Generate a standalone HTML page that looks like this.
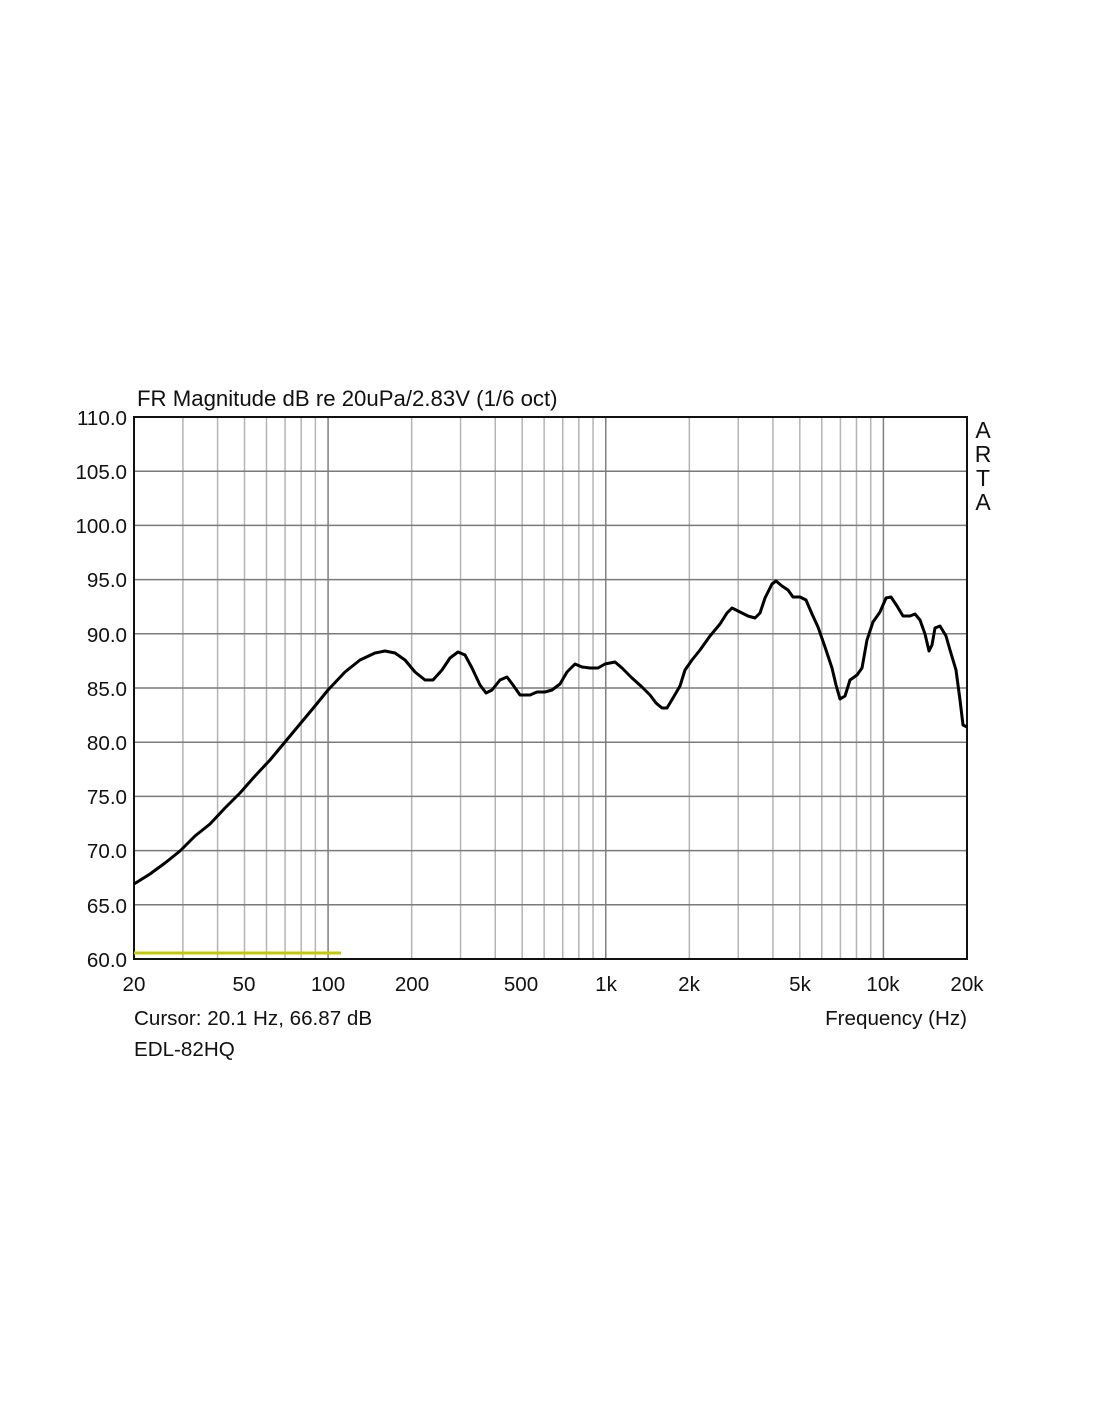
<!DOCTYPE html>
<html><head><meta charset="utf-8"><style>
html,body{margin:0;padding:0;background:#fff;}
svg text{font-family:"Liberation Sans",Arial,sans-serif;fill:#111;}
</style></head><body>
<svg width="1100" height="1422" viewBox="0 0 1100 1422" xmlns="http://www.w3.org/2000/svg">
<g id="grid"></g>
<script>
(function(){
var g=document.getElementById('grid'),ns='http://www.w3.org/2000/svg';
function ln(x1,y1,x2,y2,c,w){var l=document.createElementNS(ns,'line');l.setAttribute('x1',x1);l.setAttribute('y1',y1);l.setAttribute('x2',x2);l.setAttribute('y2',y2);l.setAttribute('stroke',c);l.setAttribute('stroke-width',w);g.appendChild(l);}
var L=134,R=967,T=417,B=959,dec=(R-L)/3;
function X(f){return L+dec*Math.log10(f/20);}
var fs=[30,40,50,60,70,80,90,200,300,400,500,600,700,800,900,2000,3000,4000,5000,6000,7000,8000,9000];
fs.forEach(function(f){ln(X(f),T,X(f),B,'#b4b4b4',1.5);});
[100,1000,10000].forEach(function(f){ln(X(f),T,X(f),B,'#808080',1.5);});
for(var i=1;i<10;i++){var y=T+i*(B-T)/10;ln(L,y,R,y,'#7a7a7a',1.5);}
})();
</script>
<rect x="134" y="417" width="833" height="542" fill="none" stroke="#111" stroke-width="2"/>
<line x1="134" y1="953" x2="341" y2="953" stroke="#c8c800" stroke-width="3"/>
<polyline fill="none" stroke="#000" stroke-width="3" stroke-linejoin="round" points="134,884 150,874 165,863 180,851 195,836 210,824 225,808 240,793 255,776 270,760 285,742 300,724 315,706 328,690 345,672 360,660 375,653 385,651 395,653 405,660 415,672 425,680 433,680 442,670 450,658 458,652 465,655 472,668 480,685 486,693 492,690 500,680 507,677 513,685 520,695 530,695 537,692 545,692 552,690 560,684 567,672 575,664 582,667 590,668 598,668 605,664 615,662 622,668 632,678 642,687 650,695 656,703 662,708 667,708 673,698 680,686 685,670 692,660 700,650 710,636 720,624 727,613 732,608 740,612 748,616 755,618 760,613 765,598 772,584 776,581 782,586 788,590 793,597 800,597 806,600 812,614 818,627 825,647 832,668 836,685 840,699 845,696 850,680 857,675 862,668 867,640 873,622 880,612 886,598 891,597 897,606 903,616 910,616 915,614 920,620 925,634 929,651 932,645 935,628 940,626 946,636 950,650 956,670 960,700 963,725 967,727"/>
<text x="137" y="406" font-size="22.2">FR Magnitude dB re 20uPa/2.83V (1/6 oct)</text>
<g font-size="20.6" text-anchor="end">
<text x="127" y="425">110.0</text><text x="127" y="479">105.0</text><text x="127" y="533">100.0</text>
<text x="127" y="587">95.0</text><text x="127" y="642">90.0</text><text x="127" y="696">85.0</text>
<text x="127" y="750">80.0</text><text x="127" y="804">75.0</text><text x="127" y="858">70.0</text>
<text x="127" y="913">65.0</text><text x="127" y="967">60.0</text>
</g>
<g font-size="20.6" text-anchor="middle">
<text x="134" y="991">20</text><text x="244" y="991">50</text><text x="328" y="991">100</text>
<text x="412" y="991">200</text><text x="521" y="991">500</text><text x="606" y="991">1k</text>
<text x="689" y="991">2k</text><text x="800" y="991">5k</text><text x="883" y="991">10k</text>
<text x="967" y="991">20k</text>
</g>
<g font-size="23" text-anchor="middle">
<text x="983" y="438">A</text><text x="983" y="462">R</text><text x="983" y="486">T</text><text x="983" y="510">A</text>
</g>
<text x="134" y="1025" font-size="20.6">Cursor: 20.1 Hz, 66.87 dB</text>
<text x="967" y="1025" font-size="20.6" text-anchor="end">Frequency (Hz)</text>
<text x="134" y="1056" font-size="20.6">EDL-82HQ</text>
</svg>
</body></html>
